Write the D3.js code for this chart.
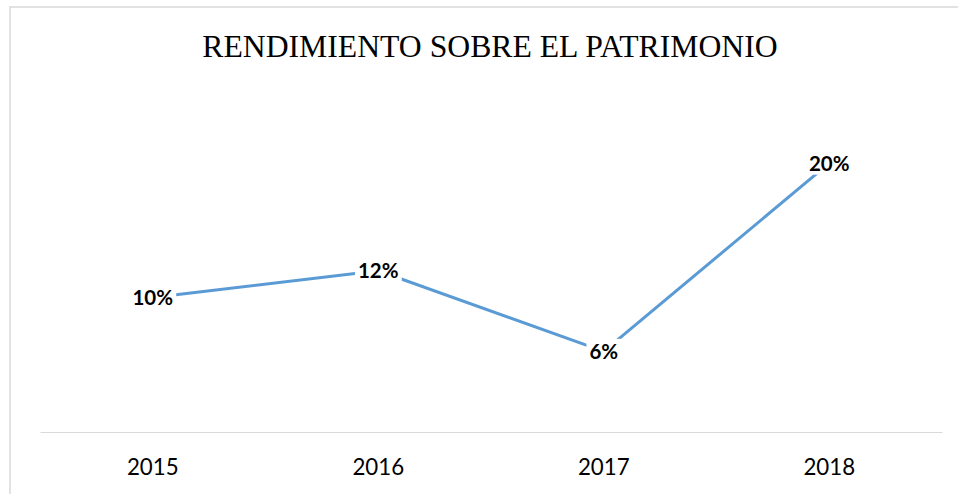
<!DOCTYPE html>
<html>
<head>
<meta charset="utf-8">
<script src="https://cdn.jsdelivr.net/npm/d3@7"></script>
<style>
  body { margin: 0; background: #fff; }
  svg { display: block; }
</style>
</head>
<body>
<svg id="chart" width="958" height="494"></svg>
<script>
// chart values
const years = ["2015", "2016", "2017", "2018"];
const roe = [0.10, 0.12, 0.06, 0.20];
const title = "RENDIMIENTO SOBRE EL PATRIMONIO";

const width = 958, height = 494;
const plot = { left: 40, right: 942, top: 96, bottom: 432 };

const svg = d3.select("#chart");

// outer chart border (right and bottom edges fall outside the picture)
svg.append("rect")
    .attr("x", 10).attr("y", 7)
    .attr("width", 980).attr("height", 520)
    .attr("fill", "none")
    .attr("stroke", "#d9d9d9")
    .attr("stroke-width", 1.5);

svg.append("text")
    .attr("x", 490).attr("y", 57)
    .attr("text-anchor", "middle")
    .style("font-family", "'Liberation Serif', 'Times New Roman', serif")
    .style("font-size", "31.7px")
    .attr("fill", "#000")
    .text(title);

const x = d3.scaleBand().domain(years).range([plot.left, plot.right]).padding(0);
const y = d3.scaleLinear().domain([0, 0.25]).range([plot.bottom, plot.top]);
const cx = d => x(d) + x.bandwidth() / 2;

// category axis, no tick marks
const axis = svg.append("g")
    .attr("transform", `translate(0,${plot.bottom})`)
    .call(d3.axisBottom(x).tickSize(0).tickPadding(0));
axis.select(".domain").attr("stroke", "#d9d9d9").attr("stroke-width", 1.2);
axis.selectAll(".tick text")
    .attr("y", 43)
    .attr("dy", null)
    .style("font-family", "Lato, 'Open Sans', sans-serif")
    .style("font-size", "22.3px")
    .attr("fill", "#000");

const points = years.map((d, i) => ({ year: d, value: roe[i] }));

const line = d3.line()
    .x(d => cx(d.year))
    .y(d => y(d.value));

svg.append("path")
    .datum(points)
    .attr("d", line)
    .attr("fill", "none")
    .attr("stroke", "#5b9bd5")
    .attr("stroke-width", 3)
    .attr("stroke-linejoin", "round")
    .attr("stroke-linecap", "round");

// data labels sit centred on the points with a white box behind them
const fmt = d3.format(".0%");
const labels = svg.append("g").selectAll("g")
    .data(points).join("g")
    .attr("transform", d => `translate(${cx(d.year)},${y(d.value)})`);

labels.append("text")
    .attr("text-anchor", "middle")
    .attr("y", 7.5)
    .style("font-family", "Lato, 'Open Sans', sans-serif")
    .style("font-weight", "bold")
    .style("font-size", "20.5px")
    .attr("fill", "#000")
    .text(d => fmt(d.value));

labels.each(function () {
    const g = d3.select(this);
    const bb = g.select("text").node().getBBox();
    g.insert("rect", "text")
        .attr("x", bb.x - 3).attr("y", bb.y)
        .attr("width", bb.width + 6).attr("height", bb.height)
        .attr("fill", "#fff");
});
</script>
</body>
</html>
